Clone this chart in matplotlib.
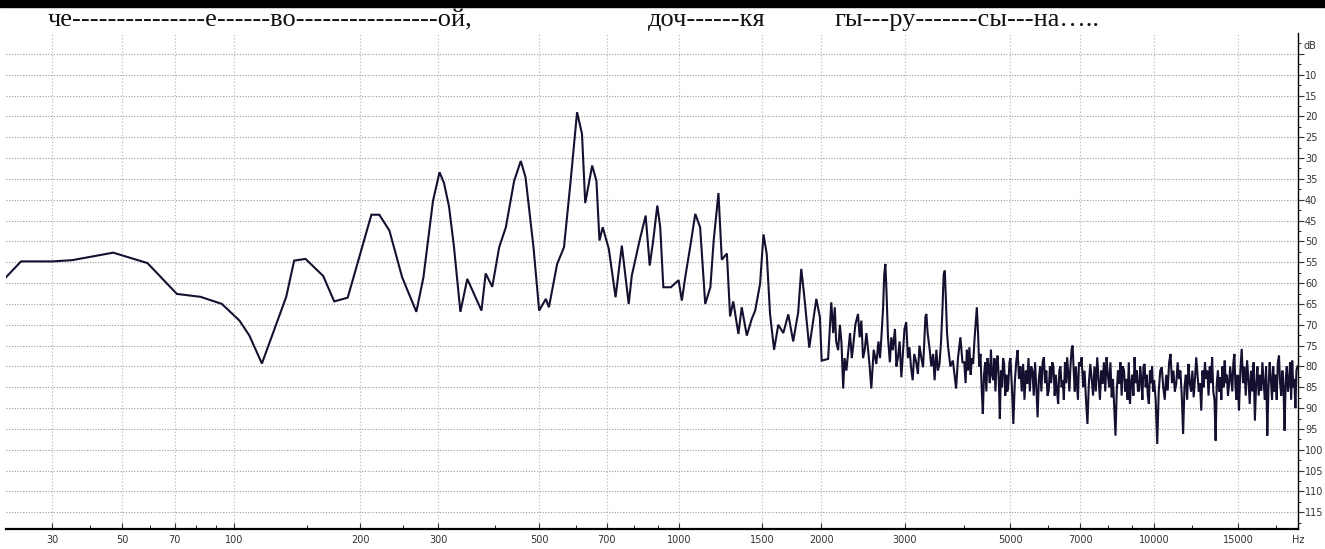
import matplotlib
matplotlib.use('Agg')
import matplotlib.pyplot as plt
from matplotlib.patches import Rectangle
import numpy as np


# spectrum: frequency (Hz) and level (dB), low part
freq_low = [
    20, 23, 30, 35, 47, 59, 71, 82, 93, 103, 109, 117, 127, 134, 140, 149,
    164, 174, 187, 199, 212, 221, 233, 249, 268, 278, 292, 302, 309, 317,
    325, 336, 348, 360, 374, 382, 395, 409, 423, 441, 456, 467, 486, 500,
    517, 525, 547, 566, 585, 604, 619, 629, 651, 665, 675, 686, 707, 731,
    754, 780, 792, 823, 848, 865, 880, 898, 911, 925, 960, 997, 1013, 1030,
    1055, 1082, 1108, 1136, 1165, 1184, 1212, 1232, 1263, 1283, 1303, 1336,
    1358, 1392, 1426, 1450, 1485, 1510, 1534, 1559, 1590, 1623, 1663, 1704,
    1745, 1788, 1815, 1840, 1887, 1953, 1987, 2004, 2068, 2100, 2120, 2136,
    2150, 2171, 2190, 2207, 2225, 2240, 2260, 2278, 2300, 2320, 2334, 2360,
    2391, 2410, 2430, 2450, 2470, 2490, 2510, 2530, 2550, 2580, 2613, 2640,
    2660, 2678, 2700, 2715, 2730, 2745, 2765, 2790, 2810, 2830, 2860, 2880,
    2902, 2925, 2950, 2975, 2995, 3020, 3045, 3068, 3090, 3116, 3140, 3170,
    3196, 3220, 3250, 3277, 3300, 3315, 3330, 3350, 3385, 3410, 3440, 3465,
    3495, 3520, 3548, 3575, 3600, 3620, 3640, 3660, 3680, 3700, 3740, 3785,
    3815, 3845, 3880, 3925, 3965,
]
db_low = [
    -58.6, -54.8, -54.8, -54.5, -52.7, -55.2, -62.6, -63.3, -65, -69, -72.6,
    -79.3, -69.7, -63.3, -54.6, -54.2, -58.3, -64.4, -63.5, -53.7, -43.6,
    -43.6, -47.4, -58.6, -66.9, -58.6, -40.3, -33.4, -36, -41.6, -51.1,
    -66.9, -59, -62.6, -66.6, -57.7, -60.9, -51.4, -46.6, -35.5, -30.7,
    -34.6, -51.4, -66.6, -63.8, -65.8, -55.4, -51.4, -35.5, -19.0, -24.2,
    -40.8, -31.8, -35.5, -49.8, -46.6, -51.8, -63.4, -51, -65, -58.2, -49.8,
    -43.8, -55.8, -49.8, -41.4, -46.6, -61, -61, -59.3, -64.2, -58.6, -51.4,
    -43.4, -46.6, -65, -61, -49.8, -38.4, -54.4, -52.9, -68, -64.4, -72.2,
    -65.8, -72.6, -68.6, -66.6, -60.2, -48.3, -53, -67.4, -76, -70, -72,
    -67.5, -74, -67, -56.6, -62.7, -75.5, -63.8, -68.2, -78.6, -78.2, -64.6,
    -72, -65.8, -74, -76.1, -70, -74.5, -85.3, -78, -81, -76.9, -72, -78,
    -75.4, -70, -67.4, -73, -69, -78, -76.1, -72, -75.8, -80, -85.3, -76,
    -79.4, -74, -78, -73, -66, -58, -55.4, -62, -73, -79, -73, -76.1, -71,
    -80, -77.8, -74, -82.6, -76, -71, -69.4, -78, -75.4, -80, -83.3, -77,
    -79, -81.8, -75, -78, -80.2, -73, -68, -67.4, -72, -76.1, -80, -77,
    -83.3, -76, -81, -79.4, -74, -66, -58, -57, -64, -72, -75.4, -80, -78.6,
    -82, -85.3, -78, -73, -79,
]

# dense noisy part above 4 kHz
freq_high = [
    4000, 4025, 4050, 4075, 4100, 4125, 4150, 4175, 4200, 4225,
    4250, 4275, 4300, 4325, 4350, 4375, 4400, 4425, 4450, 4475,
    4500, 4525, 4550, 4575, 4600, 4625, 4650, 4675, 4700, 4725,
    4750, 4775, 4800, 4825, 4850, 4875, 4900, 4925, 4950, 4975,
    5000, 5035, 5070, 5105, 5140, 5175, 5210, 5245, 5280, 5315,
    5350, 5385, 5420, 5455, 5490, 5525, 5560, 5595, 5630, 5665,
    5700, 5735, 5770, 5805, 5840, 5875, 5910, 5945, 5980, 6015,
    6050, 6085, 6120, 6155, 6190, 6225, 6260, 6295, 6330, 6365,
    6400, 6435, 6470, 6505, 6540, 6575, 6610, 6645, 6680, 6715,
    6750, 6785, 6820, 6855, 6890, 6925, 6960,
    7000, 7050, 7100, 7150, 7200, 7250, 7300, 7350, 7400, 7450,
    7500, 7550, 7600, 7650, 7700, 7750, 7800, 7850, 7900, 7950,
    8000, 8050, 8100, 8150, 8200, 8250, 8300, 8350, 8400, 8450,
    8500, 8550, 8600, 8650, 8700, 8750, 8800, 8850, 8900, 8950,
    9000, 9050, 9100, 9150, 9200, 9250, 9300, 9350, 9400, 9450,
    9500, 9550, 9600, 9650, 9700, 9750, 9800, 9850, 9900, 9950,
    10000, 10075, 10150, 10225, 10300, 10375, 10450, 10525, 10600, 10675,
    10750, 10825, 10900, 10975, 11050, 11125, 11200, 11275, 11350, 11425,
    11500, 11575, 11650, 11725, 11800, 11875, 11950, 12025, 12100, 12175,
    12250, 12325, 12400, 12475, 12550, 12625, 12700, 12775, 12850, 12925,
    13000, 13075, 13150, 13225, 13300, 13375, 13450, 13525, 13600, 13675,
    13750, 13825, 13900, 13975, 14050, 14125, 14200, 14275, 14350, 14425,
    14500, 14575, 14650, 14725, 14800, 14875,
    14950, 15050, 15150, 15250, 15350, 15450, 15550, 15650, 15750, 15850,
    15950, 16050, 16150, 16250, 16350, 16450, 16550, 16650, 16750, 16850,
    16950, 17050, 17150, 17250, 17350, 17450, 17550, 17650, 17750, 17850,
    17950, 18050, 18150, 18250, 18350, 18450, 18550, 18650, 18750, 18850,
    18950, 19050, 19150, 19250, 19350, 19450, 19550, 19650, 19750, 19850,
    19950,
]
db_high = [
    -79, -84, -76, -81, -75.4, -82, -78, -79.4, -74, -70,
    -65.8, -72, -80, -77, -85, -91.4, -82, -79, -86, -78,
    -80.2, -84, -76, -82, -83.3, -78, -86, -79, -77.4, -83,
    -92.6, -81, -85, -78, -79.4, -87, -82, -86, -84.2, -79,
    -78, -85, -93.8, -84, -79, -76.1, -83, -80, -86, -79.4,
    -88, -81, -84.2, -78, -86, -80, -81, -87, -79, -85,
    -92.2, -83, -80, -86, -79, -77.8, -84, -81, -87, -85.8,
    -80, -84, -79, -80.2, -87, -82, -86, -89, -81, -80,
    -85, -83.3, -88, -79, -84, -77.8, -82, -86, -80, -76,
    -75, -81, -86, -80, -84.2, -88, -79,
    -80, -77.8, -85, -81, -88, -93.8, -84, -79.4, -83, -87,
    -80, -86, -77.8, -83, -88, -81, -84.2, -79, -86, -77.8,
    -82, -85, -79, -87.4, -83, -90, -96.6, -86, -81, -84.2,
    -79, -87, -80, -81, -86, -83, -88, -79, -89, -84,
    -82, -87, -77.8, -84, -81, -86, -85.8, -80, -83, -88,
    -80, -79.4, -85, -82, -87, -89, -81, -84, -80, -86,
    -83.3, -88, -98.6, -86, -81, -80.2, -85, -88, -82, -85.8,
    -79, -77, -84, -81, -86, -84.2, -79, -83, -81, -87,
    -96.2, -85, -82, -88, -79.4, -84, -86, -81, -87.4, -83,
    -77.8, -82, -86, -84, -90.6, -81, -85, -79, -83, -81,
    -87, -80, -84, -77.8, -86, -88, -97.8, -84, -81, -86,
    -82.6, -88, -80, -85, -78.6, -84, -82, -87, -84.2, -80,
    -83, -86, -79, -77, -85, -88,
    -82, -90.6, -81, -75.8, -84, -80, -87, -78.6, -83, -89,
    -81, -86, -79, -93, -84, -80, -87, -82, -85.8, -79,
    -84, -88, -80, -96.6, -85, -79, -83, -88, -80, -86,
    -82, -88, -79, -77.4, -84, -87, -81, -85, -95.4, -83,
    -80, -86, -84, -79, -88, -78.6, -85, -83, -90, -81,
    -80,
]

freq_ticks = [30, 50, 70, 100, 200, 300, 500, 700, 1000, 1500, 2000, 3000,
              5000, 7000, 10000, 15000, 20000]
freq_labels = ['30', '50', '70', '100', '200', '300', '500', '700', '1000',
               '1500', '2000', '3000', '5000', '7000', '10000', '15000', 'Hz']
freq_minor = [40, 60, 80, 90, 150, 250, 400, 600, 800, 900, 4000, 6000,
              8000, 9000, 12000, 18000]
db_ticks = [-10, -15, -20, -25, -30, -35, -40, -45, -50, -55, -60, -65,
            -70, -75, -80, -85, -90, -95, -100, -105, -110, -115]

title_parts = [
    (48, 'че---------------е------во----------------ой,'),
    (648, 'доч------кя'),
    (834, 'гы---ру-------сы---на…..'),
]


def fwd(f):
    return np.log10(np.asarray(f, dtype=float) + 20.0)


def inv(v):
    return 10.0 ** np.asarray(v, dtype=float) - 20.0


W, H = 1325, 549
fig = plt.figure(figsize=(W / 100, H / 100), dpi=100)
fig.patch.set_facecolor('white')
fig.patches.append(Rectangle((0, 1 - 7 / H), 1, 7 / H, transform=fig.transFigure,
                             color='black', zorder=0))

for x0, txt in title_parts:
    fig.text(x0 / W, 1 - 26 / H, txt, fontfamily='Liberation Serif', fontsize=19,
             va='baseline', ha='left', color='#111111')

ax = fig.add_axes([6 / W, 1 - 529 / H, (1298 - 6) / W, (529 - 33) / H])
ax.set_xscale('function', functions=(fwd, inv))
ax.set_xlim(20, 20000)
ax.set_ylim(-119, 0)

n = min(len(freq_high), len(db_high))
ax.plot(freq_low + freq_high[:n], db_low + db_high[:n], color='#15102f',
        lw=1.5, solid_joinstyle='miter')

ax.set_xticks(freq_ticks)
ax.set_xticklabels(freq_labels)
ax.set_xticks(freq_minor, minor=True)
ax.set_yticks([-5] + db_ticks)
ax.set_yticklabels([''] + [str(-v) for v in db_ticks])
ax.set_yticks(np.arange(-117.5, 0, 2.5), minor=True)
ax.yaxis.tick_right()
ax.text(1.004, 1 - 3 / 119, 'dB', transform=ax.transAxes, fontsize=7,
        va='center', ha='left', color='#333333')

for v in freq_ticks[:-1]:
    ax.axvline(v, color='#b4b4b4', lw=0.8, ls=(0, (1, 2)), zorder=0)
for v in [-5] + db_ticks:
    ax.axhline(v, color='#9c9c9c', lw=0.8, ls=(0, (1, 1.5)), zorder=0)

ax.tick_params(axis='x', which='major', direction='in', length=4, labelsize=7,
               pad=4, colors='#333333')
ax.tick_params(axis='x', which='minor', direction='in', length=3)
ax.tick_params(axis='y', which='major', direction='out', length=4, labelsize=7,
               pad=1, colors='#333333')
ax.tick_params(axis='y', which='minor', direction='out', length=2)

for s in ['left', 'top']:
    ax.spines[s].set_visible(False)
ax.spines['bottom'].set_linewidth(1.6)
ax.spines['right'].set_linewidth(1.0)

fig.savefig('out.png', dpi=100)
